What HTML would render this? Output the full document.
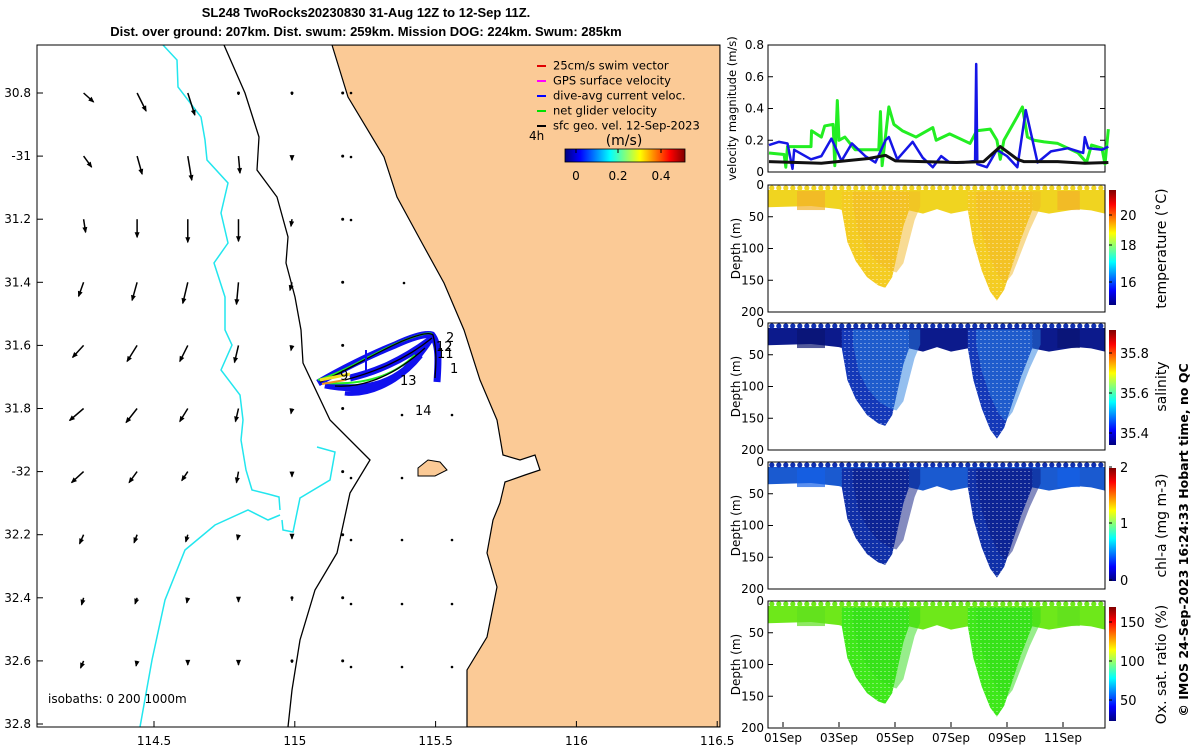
<!DOCTYPE html>
<html><head><meta charset="utf-8">
<style>
body{margin:0;background:#fff;}
svg{font-family:"DejaVu Sans","Liberation Sans",sans-serif;}
</style></head>
<body>
<svg id="s" width="1200" height="750" viewBox="0 0 1200 750" xmlns="http://www.w3.org/2000/svg">
<defs>
<linearGradient id="jet" x1="0" y1="0" x2="1" y2="0">
<stop offset="0" stop-color="#00007f"/><stop offset="0.125" stop-color="#0000ff"/><stop offset="0.375" stop-color="#00ffff"/><stop offset="0.625" stop-color="#ffff00"/><stop offset="0.875" stop-color="#ff0000"/><stop offset="1" stop-color="#7f0000"/>
</linearGradient>
<linearGradient id="jetv" x1="0" y1="1" x2="0" y2="0">
<stop offset="0" stop-color="#00007f"/><stop offset="0.125" stop-color="#0000ff"/><stop offset="0.375" stop-color="#00ffff"/><stop offset="0.625" stop-color="#ffff00"/><stop offset="0.875" stop-color="#ff0000"/><stop offset="1" stop-color="#7f0000"/>
</linearGradient>
<clipPath id="mapclip"><rect x="37" y="45" width="683" height="682"/></clipPath>
<pattern id="speck" width="4" height="4" patternUnits="userSpaceOnUse"><rect x="0" y="3" width="2" height="1" fill="#fff" opacity="0.35"/></pattern>
</defs>
<text x="366" y="17" text-anchor="middle" font-size="13" font-weight="bold" font-family="Liberation Sans, sans-serif">SL248 TwoRocks20230830 31-Aug 12Z to 12-Sep 11Z.</text>
<text x="366" y="36" text-anchor="middle" font-size="13" font-weight="bold" font-family="Liberation Sans, sans-serif">Dist. over ground: 207km. Dist. swum: 259km. Mission DOG: 224km. Swum: 285km</text>
<g id="map"></g>
<g id="right"></g>
<text transform="translate(1188,540) rotate(-90)" text-anchor="middle" font-size="12.5" font-weight="bold">© IMOS 24-Sep-2023 16:24:33 Hobart time, no QC</text>
</svg>
<script>
// ---- map data ----
const arrowRowsLat=[30.8,31.0,31.2,31.4,31.6,31.8,32.0,32.2,32.4,32.6];
const arrowColsLon=[114.25,114.44,114.62,114.8,114.99,115.17];
const arrowU=[[10,9,7,0,0,0],[8,5,4,1.5,0,0],[2,0,0,0,-1,0],[-5,-5,-5,-2,-2,0],[-11,-10,-8,-4,-1,0],[-14,-11,-8,-3,-1,0],[-12,-8,-6,-2,0,0],[-4,-3,-2,-1,0,0],[-2,-2,-1,0,0,0],[-3,-1,0,0,0,0]];
const arrowV=[[9,18,22,2,2,1],[11,18,24,17,4,1],[13,18,23,22,7,1],[14,18,21,22,8,1],[12,16,16,17,5,1],[12,14,13,13,5,1],[11,11,9,11,5,1],[9,8,7,5,4,1],[7,6,5,4,3,1],[7,5,4,4,2,1]];
const xTicks=[114.5,115,115.5,116,116.5];
const xTickLabels=["114.5","115","115.5","116","116.5"];
const yTicks=[30.8,31,31.2,31.4,31.6,31.8,32,32.2,32.4,32.6,32.8];
const yTickLabels=["30.8","-31","31.2","31.4","31.6","31.8","-32","32.2","32.4","32.6","32.8"];
// ---- velocity data (days since 01-Sep 00Z) ----
const gT=[-0.5,0.04,0.1,0.16,0.28,1.0,1.02,1.37,1.49,1.79,1.85,1.94,2.0,2.21,2.58,3.42,3.48,3.54,3.78,3.96,4.26,4.75,5.35,5.47,5.95,6.68,6.92,7.4,7.64,7.76,7.89,8.37,8.55,8.73,8.97,9.33,9.81,10.54,10.84,11.02,11.39,11.5,11.62];
const gV=[0.12,0.11,0.03,0.16,0.16,0.16,0.26,0.22,0.29,0.3,0.04,0.45,0.2,0.22,0.14,0.14,0.38,0.04,0.41,0.3,0.26,0.22,0.28,0.2,0.24,0.18,0.26,0.27,0.2,0.08,0.2,0.35,0.41,0.22,0.2,0.19,0.18,0.12,0.06,0.17,0.15,0.05,0.27];
const bT=[-0.5,-0.14,0.16,0.34,0.4,1.0,1.37,1.73,2.09,2.46,2.94,3.3,3.66,3.78,4.08,4.63,4.99,5.35,5.65,5.95,6.44,6.86,6.9,6.94,7.28,7.64,8.0,8.37,8.67,9.09,9.57,10.18,10.72,10.78,10.9,11.39,11.62];
const bV=[0.17,0.19,0.18,0.02,0.14,0.08,0.1,0.21,0.07,0.18,0.1,0.06,0.2,0.22,0.08,0.19,0.09,0.03,0.1,0.06,0.06,0.07,0.68,0.05,0.03,0.14,0.1,0.03,0.39,0.06,0.13,0.15,0.12,0.22,0.15,0.14,0.16];
const kT=[-0.5,1.37,3.06,3.66,4.02,4.99,6.2,7.16,7.76,8.37,8.61,9.81,10.78,11.62];
const kV=[0.065,0.055,0.085,0.105,0.07,0.065,0.06,0.065,0.16,0.08,0.065,0.065,0.055,0.06];
const dayTicks=[0,2,4,6,8,10];
const dayLabels=["01Sep","03Sep","05Sep","07Sep","09Sep","11Sep"];
const velTicks=[0,0.2,0.4,0.6,0.8];
const depthTicks=[0,50,100,150,200];
const diveD=[2.1,2.3,2.6,3.0,3.4,3.65,3.9,4.1,4.3,4.5];
const diveZ=[40,90,120,145,158,162,145,105,65,40];
const dive2D=[6.6,6.8,7.1,7.4,7.64,7.9,8.2,8.5,8.9];
const dive2Z=[40,90,135,168,182,165,125,85,40];

const NS="http://www.w3.org/2000/svg";
function mk(tag,attrs,parent,txt){const e=document.createElementNS(NS,tag);for(const k in attrs)e.setAttribute(k,attrs[k]);if(txt!==undefined)e.textContent=txt;parent.appendChild(e);return e;}

const lonX=l=>154+(l-114.5)*281.6;
const latY=l=>93+(l-30.8)*315.5;
const map=document.getElementById('map');
const mg=mk('g',{'clip-path':'url(#mapclip)'},map);
let el;
el=mk('path',{d:"M332,45 L348,97 L384,157 L397,197 L422,243 L444,283 L464,330 L480,380 L497,420 L503,455 L520,460 L535,455 L540,470 L525,475 L505,482 L500,503 L493,520 L487,553 L497,587 L487,637 L467,670 L467,727 L720,727 L720,45 Z",fill:"#fbca96",stroke:"#000","stroke-width":1.2},mg);


el=mk('path',{d:"M418,468 L428,460 L440,462 L447,470 L435,476 L418,476 Z",fill:"#fbca96",stroke:"#000","stroke-width":1},mg);


el=mk('path',{d:"M224,45 L245,93 L259,137 L257,170 L277,197 L288,237 L286,263 L295,297 L301,330 L303,363 L330,420 L370,460 L350,493 L337,553 L315,590 L300,640 L292,690 L288,727",fill:"none",stroke:"#000","stroke-width":1.3},mg);


el=mk('path',{d:"M163,45 L177,60 L178,87 L201,117 L205,140 L207,160 L228,183 L221,213 L228,243 L214,263 L225,297 L225,330 L232,345 L221,370 L240,395 L243,420 L241,440 L246,470 L252,490 L268,494 L279,497 L280,510 M280,515 L268,520 L248,510 L215,525 L185,550 L165,600 L152,660 L140,727 M317,447 L335,452 L330,480 L300,498 L293,532 L283,530 L282,520",fill:"none",stroke:"#22e6ee","stroke-width":1.5},mg);


arrowRowsLat.forEach((lat,i)=>{arrowColsLon.forEach((lon,j)=>{
 const x=lonX(lon),y=latY(lat),u=arrowU[i][j],v=arrowV[i][j];
 const ex=x+u,ey=y+v;const L=Math.hypot(u,v);
 const a=mk('g',{},mg);
 
 
 mk('line',{x1:x,y1:y,x2:ex,y2:ey,stroke:"#000","stroke-width":1.5},a);
 if(L>3){const ux=u/L,uy=v/L,h=5;mk('path',{d:`M${ex+ux},${ey+uy} L${ex-h*ux+2.5*uy},${ey-h*uy-2.5*ux} L${ex-h*ux-2.5*uy},${ey-h*uy+2.5*ux} Z`,fill:"#000"},a);}
 else mk('circle',{cx:x,cy:y,r:1.5,fill:"#000"},a);
});});
[[351,93],[351,157],[351,220],[404,283],[402,415],[452,415],[402,478],[452,540],[402,540],[402,604],[452,604],[402,667],[452,667],[351,667],[351,604],[351,540],[351,478]].forEach(p=>{mk('circle',{cx:p[0],cy:p[1],r:1.3,fill:"#000"},mg);});
const tr=mk('g',{},mg);


mk('path',{d:"M318,383 C340,370 370,355 395,345 C410,338 425,333 432,335 C440,345 438,365 437,382 M325,385 C350,390 380,390 405,370 C420,355 430,340 433,334 M345,392 C370,395 400,380 420,355 M350,378 C375,372 400,362 430,340",fill:"none",stroke:"#1010ee","stroke-width":7},tr);
mk('path',{d:"M318,380 C345,372 375,352 400,342 C415,336 428,332 432,334 M325,383 C355,385 390,380 415,355",fill:"none",stroke:"#22ee22","stroke-width":2},tr);
mk('path',{d:"M320,382 C345,372 380,350 405,340 C420,334 430,332 433,335 C437,350 436,365 435,378 M335,386 C365,388 395,375 425,348 M345,380 C375,372 405,360 432,338",fill:"none",stroke:"#000","stroke-width":1.3},tr);
mk('path',{d:"M320,380 L350,374",fill:"none",stroke:"#f0e020","stroke-width":3},tr);
mk('path',{d:"M322,384 L345,380",fill:"none",stroke:"#f09020","stroke-width":2},tr);
mk('line',{x1:366,y1:372,x2:366,y2:350,stroke:"#1010ee","stroke-width":2},tr);
[["2",446,342],["12",436,351],["11",437,358],["1",450,373],["13",400,385],["14",415,415],["9",340,380]].forEach(t=>{mk('text',{x:t[1],y:t[2],"font-size":13},tr,t[0]);});
const lg=mk('g',{},map);


[["25cm/s swim vector","#e00000"],["GPS surface velocity","#ff00ff"],["dive-avg current veloc.","#0000ff"],["net glider velocity","#00e000"],["sfc geo. vel. 12-Sep-2023","#000"]].forEach((e,i)=>{
 const y=62+i*15;
 const en=mk('g',{},lg);
 
 
 mk('line',{x1:537,y1:y+4,x2:546,y2:y+4,stroke:e[1],"stroke-width":2},en);
 mk('text',{x:553,y:y+4,"font-size":11.5,"dominant-baseline":"middle"},en,e[0]);
});
mk('text',{x:529,y:140,"font-size":12},map,"4h");
mk('text',{x:624,y:145,"font-size":14,"text-anchor":"middle"},map,"(m/s)");
el=mk('rect',{x:565,y:149,width:120,height:13,fill:"url(#jet)",stroke:"#000","stroke-width":0.8},map);


[["0",576],["0.2",618],["0.4",661]].forEach(t=>{mk('line',{x1:t[1],y1:149,x2:t[1],y2:153,stroke:"#000"},map);mk('text',{x:t[1],y:180,"font-size":12,"text-anchor":"middle"},map,t[0]);});
mk('text',{x:48,y:703,"font-size":12},map,"isobaths: 0   200  1000m");
mk('rect',{x:37,y:45,width:683,height:682,fill:"none",stroke:"#000","stroke-width":1},map);
xTicks.forEach((t,i)=>{const x=lonX(t);mk('line',{x1:x,y1:727,x2:x,y2:721,stroke:"#000"},map);mk('text',{x:x,y:745,"font-size":12,"text-anchor":"middle"},map,xTickLabels[i]);});
yTicks.forEach((t,i)=>{const y=latY(t);mk('line',{x1:37,y1:y,x2:43,y2:y,stroke:"#000"},map);mk('text',{x:31,y:y+4,"font-size":12,"text-anchor":"end"},map,yTickLabels[i]);});

const R=document.getElementById('right');
const PX0=768,PX1=1105;
const dX=d=>783+28*d;
const vTop=45,vBot=172;
const vY=v=>vBot-(v/0.8)*(vBot-vTop);
mk('rect',{x:PX0,y:vTop,width:PX1-PX0,height:vBot-vTop,fill:"#fff",stroke:"#000"},R);
function line(T,V,col,w,name){const p=mk('polyline',{points:T.map((t,i)=>dX(t)+","+vY(V[i])).join(" "),fill:"none",stroke:col,"stroke-width":w,"stroke-linejoin":"round"},R);}
line(gT,gV,"#22ee22",3,"net-glider-velocity-line");
line(bT,bV,"#1515e6",2.5,"dive-avg-current-line");
line(kT,kV,"#111",3,"geostrophic-velocity-line");
velTicks.forEach(t=>{const y=vY(t);mk('line',{x1:PX0,y1:y,x2:PX0+5,y2:y,stroke:"#000"},R);mk('line',{x1:PX1,y1:y,x2:PX1-5,y2:y,stroke:"#000"},R);mk('text',{x:PX0-4,y:y+4,"font-size":12,"text-anchor":"end"},R,String(t));});
mk('text',{transform:`translate(736,${(vTop+vBot)/2}) rotate(-90)`,"text-anchor":"middle","font-size":11.5},R,"velocity magnitude (m/s)");

const panels=[
 {top:185,name:"temperature",band:"#f0d420",band2:"#f2b02a",dive:"#f4cc22",dive2:"#f2b828",dot:"#f0d420",label:"temperature (°C)",ticks:[["16",282],["18",245],["20",215]],cbTop:190,cbBot:305},
 {top:323,name:"salinity",band:"#0c1a8c",band2:"#0a1470",dive:"#1438b8",dive2:"#2a80e0",dot:"#1030b0",label:"salinity",ticks:[["35.4",433],["35.6",393],["35.8",353]],cbTop:330,cbBot:445},
 {top:462,name:"chlorophyll",band:"#1a5ad0",band2:"#1460e8",dive:"#1030a8",dive2:"#0a1880",dot:"#1030b0",label:"chl-a (mg m-3)",ticks:[["0",580],["1",523],["2",467]],cbTop:468,cbBot:581},
 {top:601,name:"oxygen",band:"#6ee81a",band2:"#5ee020",dive:"#3ee81a",dive2:"#30dc18",dot:"#6ee81a",label:"Ox. sat. ratio (%)",ticks:[["50",700],["100",661],["150",622]],cbTop:607,cbBot:721}
];
const bandD=[-0.6,1.0,2.0,2.3,3.0,4.5,5.0,5.5,6.0,6.6,8.9,9.5,10.5,11.0,11.5,11.7];
const bandZ=[35,33,38,42,40,40,45,38,45,40,40,45,38,40,45,45];
panels.forEach(P=>{
 const H=127;const zY=z=>P.top+z/200*H;
 const g=mk('g',{},R);
 
 
 mk('rect',{x:PX0,y:P.top,width:PX1-PX0,height:H,fill:"#fff"},g);
 let pts=[[PX0,P.top+5],[PX1,P.top+5]];
 for(let i=bandD.length-1;i>=0;i--)pts.push([Math.min(PX1,Math.max(PX0,dX(bandD[i]))),zY(bandZ[i])]);
 mk('polygon',{points:pts.map(p=>p.join(",")).join(" "),fill:P.band},g);
 [[0.5,1.5],[3.5,4.2],[7.2,8.0],[9.8,10.6]].forEach(r=>mk('rect',{x:dX(r[0]),y:P.top+6,width:28*(r[1]-r[0]),height:H*0.15,fill:P.band2,opacity:0.7},g));
 const dp=(D,Z)=>D.map((d,i)=>dX(d)+","+zY(Z[i])).join(" ")+" "+dX(D[D.length-1])+","+zY(10)+" "+dX(D[0])+","+zY(10);
 mk('polygon',{points:dp(diveD,diveZ),fill:P.dive},g);
 mk('polygon',{points:dp(dive2D,dive2Z),fill:P.dive},g);
 mk('polygon',{points:dp(diveD.map(d=>d+0.4),diveZ.map(z=>z*0.85)),fill:P.dive2,opacity:0.5},g);
 mk('polygon',{points:dp(dive2D.map(d=>d+0.3),dive2Z.map(z=>z*0.85)),fill:P.dive2,opacity:0.5},g);
 mk('polygon',{points:dp(diveD,diveZ),fill:"url(#speck)"},g);
 mk('polygon',{points:dp(dive2D,dive2Z),fill:"url(#speck)"},g);
 for(let d=-0.4;d<11.6;d+=0.25){mk('circle',{cx:dX(d),cy:P.top+3,r:2.6,fill:P.dot},g);}
 mk('rect',{x:PX0,y:P.top,width:PX1-PX0,height:H,fill:"none",stroke:"#000"},g);
 depthTicks.forEach(t=>{const y=zY(t);mk('line',{x1:PX0,y1:y,x2:PX0+5,y2:y,stroke:"#000"},g);mk('text',{x:PX0-4,y:y+4,"font-size":12,"text-anchor":"end"},g,String(t));});
 mk('text',{transform:`translate(740,${P.top+H/2}) rotate(-90)`,"text-anchor":"middle","font-size":12},g,"Depth (m)");
 const cb=mk('rect',{x:1109,y:P.cbTop,width:7,height:P.cbBot-P.cbTop,fill:"url(#jetv)"},g);
 
 
 P.ticks.forEach(t=>{mk('line',{x1:1109,y1:t[1],x2:1112,y2:t[1],stroke:"#000"},g);mk('text',{x:1120,y:t[1]+5,"font-size":13},g,t[0]);});
 mk('text',{transform:`translate(1166,${P.top+H/2}) rotate(-90)`,"text-anchor":"middle","font-size":14},g,P.label);
});
dayTicks.forEach((d,i)=>{const x=dX(d);mk('line',{x1:x,y1:727,x2:x,y2:722,stroke:"#000"},R);mk('text',{x:x,y:742,"font-size":12,"text-anchor":"middle"},R,dayLabels[i]);});
</script>
</body></html>
